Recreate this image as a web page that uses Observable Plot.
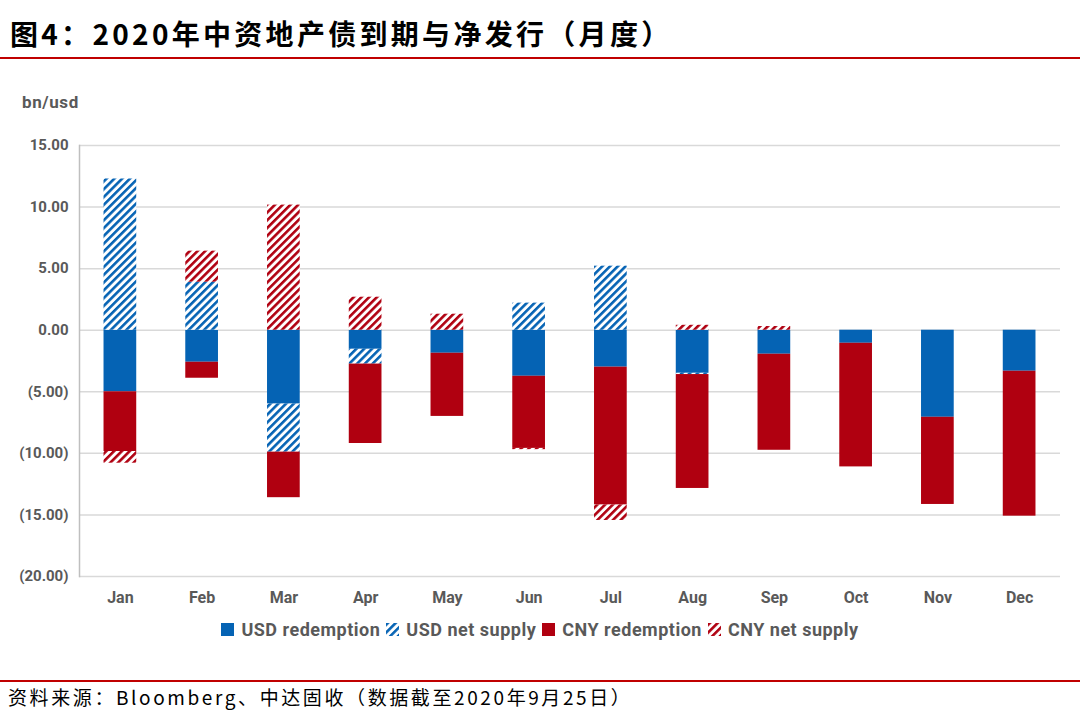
<!DOCTYPE html>
<html>
<head>
<meta charset="utf-8">
<script src="https://cdn.jsdelivr.net/npm/d3@7"></script>
<script src="https://cdn.jsdelivr.net/npm/@observablehq/plot@0.6"></script>
<style>
  html, body { margin: 0; padding: 0; background: #fff; }
  #wrap { position: relative; width: 1080px; height: 712px; overflow: hidden; font-family: Roboto, "Noto Sans", sans-serif; }
  #title { position: absolute; left: 10px; top: 14px; font-family: "Noto Sans CJK SC", sans-serif; font-weight: 700; font-size: 28px; letter-spacing: 3.3px; color: #000; line-height: 38px; white-space: nowrap; }
  .redline { position: absolute; left: 0; width: 1080px; height: 2px; background: #c00000; }
  #unit { position: absolute; left: 22px; top: 92px; font-weight: 700; font-size: 17px; letter-spacing: 0.6px; color: #595959; }
  #chart { position: absolute; left: 0; top: 120px; }
  #legend { position: absolute; left: 0; width: 1080px; top: 619px; text-align: center; font-weight: 700; font-size: 18px; letter-spacing: 0.5px; color: #595959; white-space: nowrap; }
  #legend span.item { display: inline-flex; align-items: center; margin: 0 3px; }
  #legend svg { margin-right: 7px; }
  #source { position: absolute; left: 8px; top: 683px; font-family: "Noto Sans CJK SC", sans-serif; font-size: 19px; letter-spacing: 2.6px; color: #000; white-space: nowrap; line-height: 28px; }
</style>
</head>
<body>
<svg width="0" height="0" style="position:absolute">
  <defs>
    <pattern id="hatchBlue" patternUnits="userSpaceOnUse" width="5.5" height="5.5" patternTransform="rotate(45)">
      <rect x="0" y="0" width="5.5" height="5.5" fill="#ffffff"></rect>
      <rect x="0" y="0" width="2.6" height="5.5" fill="#0563b4"></rect>
    </pattern>
    <pattern id="hatchRed" patternUnits="userSpaceOnUse" width="5.5" height="5.5" patternTransform="rotate(45)">
      <rect x="0" y="0" width="5.5" height="5.5" fill="#ffffff"></rect>
      <rect x="0" y="0" width="2.6" height="5.5" fill="#b00010"></rect>
    </pattern>
  </defs>
</svg>
<div id="wrap">
  <div id="title">图4：2020年中资地产债到期与净发行（月度）</div>
  <div class="redline" style="top:57px"></div>
  <div id="unit">bn/usd</div>
  <div id="chart"></div>
  <div id="legend"></div>
  <div class="redline" style="top:680px"></div>
  <div id="source">资料来源：Bloomberg、中达固收（数据截至2020年9月25日）</div>
</div>
<script>
const months = ["Jan","Feb","Mar","Apr","May","Jun","Jul","Aug","Sep","Oct","Nov","Dec"];
const seriesNames = ["USD redemption","USD net supply","CNY redemption","CNY net supply"];
const usdRedemption = [-5.0, -2.6, -6.0, -1.55, -1.87, -3.74, -3.0, -3.5, -1.95, -1.06, -7.07, -3.33];
const usdNetSupply  = [12.28, 3.9, -3.9, -1.2, 0, 2.2, 5.2, -0.1, 0, 0, 0, 0];
const cnyRedemption = [-4.85, -1.3, -3.7, -6.45, -5.13, -5.86, -11.2, -9.25, -7.8, -10.04, -7.08, -11.77];
const cnyNetSupply  = [-0.95, 2.52, 10.16, 2.68, 1.3, -0.1, -1.25, 0.4, 0.3, 0, 0, 0];
const yTicks = [15, 10, 5, 0, -5, -10, -15, -20];
const seriesColors = ["#0563b4", "url(#hatchBlue)", "#b00010", "url(#hatchRed)"];

const seriesValues = [usdRedemption, usdNetSupply, cnyRedemption, cnyNetSupply];
const data = [];
seriesNames.forEach((s, si) => {
  months.forEach((m, mi) => {
    const v = seriesValues[si][mi];
    if (v !== 0) data.push({month: m, series: s, value: v});
  });
});

const fmt = d => d < 0 ? `(${Math.abs(d).toFixed(2)})` : d.toFixed(2);

const chart = Plot.plot({
  width: 1080,
  height: 490,
  marginTop: 25,
  marginBottom: 34,
  marginLeft: 79,
  marginRight: 20,
  style: {fontFamily: "Roboto, 'Noto Sans', sans-serif", fontSize: "15px", fontWeight: 700, color: "#595959", background: "#fff"},
  x: {domain: months, paddingInner: 0.6, paddingOuter: 0.3, round: false, label: null, tickSize: 0, tickPadding: 15},
  y: {domain: [-20, 15], ticks: yTicks, tickFormat: fmt, label: null, tickSize: 0, tickPadding: 11},
  color: {domain: seriesNames, range: seriesColors},
  marks: [
    Plot.ruleY(yTicks, {stroke: "#d9d9d9", strokeWidth: 1.5}),
    Plot.frame({anchor: "left", stroke: "#bfbfbf", strokeWidth: 1.5}),
    Plot.barY(data, Plot.stackY({x: "month", y: "value", fill: "series"}))
  ]
});
document.getElementById("chart").appendChild(chart);
chart.querySelectorAll('[aria-label="x-axis tick label"] text').forEach(t => t.style.fontSize = "16px");

const legend = document.getElementById("legend");
seriesNames.forEach((s, i) => {
  const item = document.createElement("span");
  item.className = "item";
  item.innerHTML = `<svg width="13" height="13"><rect width="13" height="13" fill="${seriesColors[i]}"></rect></svg>${s}`;
  legend.appendChild(item);
});
</script>
</body>
</html>
